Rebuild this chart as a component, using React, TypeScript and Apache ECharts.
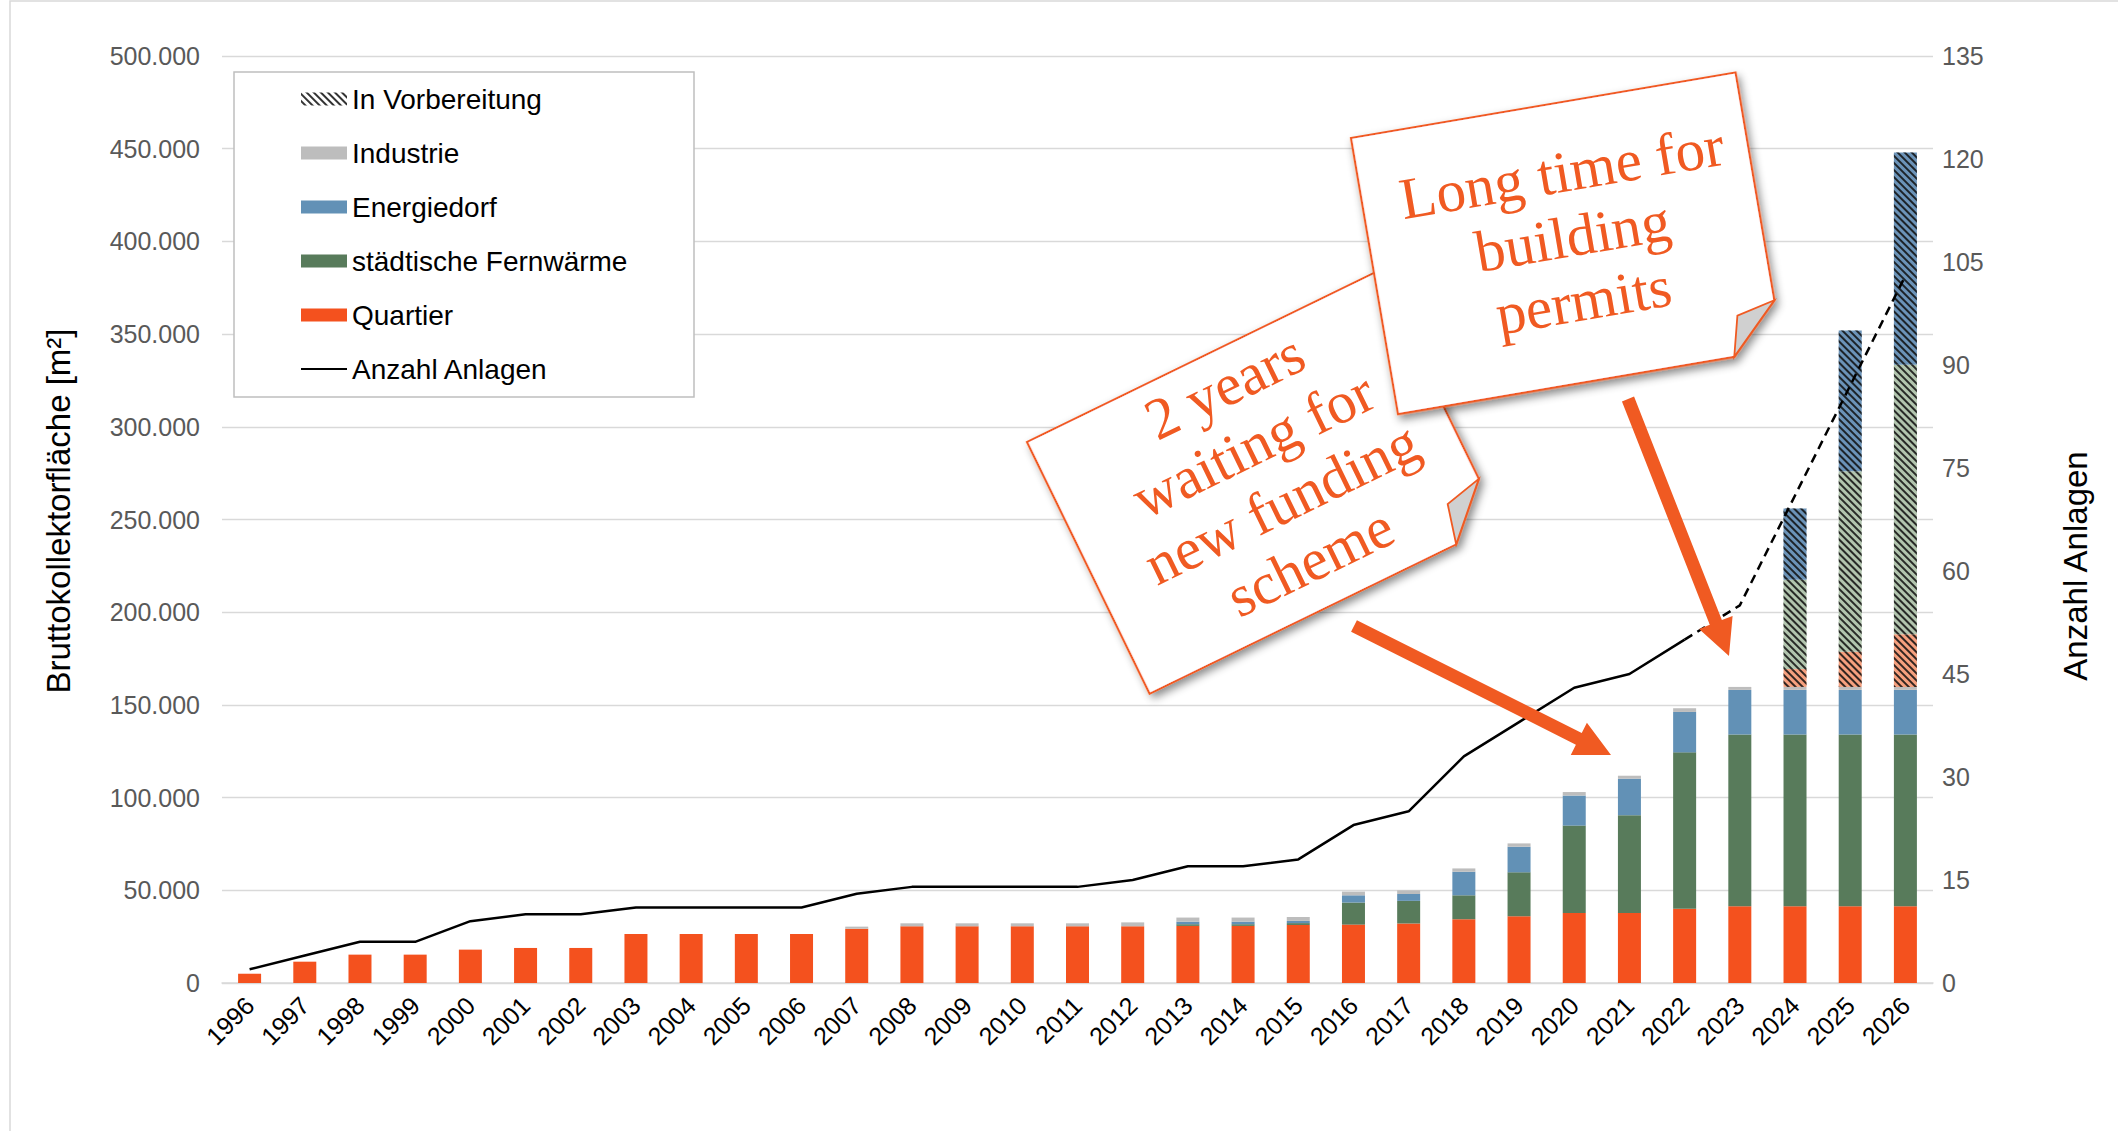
import React, { useEffect, useRef } from "react";
import * as echarts from "echarts";

const years = [
  "1996", "1997", "1998", "1999", "2000", "2001", "2002", "2003", "2004", "2005",
  "2006", "2007", "2008", "2009", "2010", "2011", "2012", "2013", "2014", "2015",
  "2016", "2017", "2018", "2019", "2020", "2021", "2022", "2023", "2024", "2025", "2026",
];

const quartier = [
  5000, 11500, 15300, 15300, 18000, 18900, 18900, 26400, 26400, 26400,
  26400, 29300, 30600, 30600, 30600, 30600, 30600, 30800, 30800, 31300,
  31500, 32100, 34400, 36000, 37800, 37800, 40000, 41400, 41400, 41400, 41400,
];
const fernwaerme = [
  0, 0, 0, 0, 0, 0, 0, 0, 0, 0,
  0, 0, 0, 0, 0, 0, 0, 900, 900, 1000,
  11900, 12200, 12900, 23700, 47100, 52700, 84400, 92600, 92600, 92600, 92600,
];
const energiedorf = [
  0, 0, 0, 0, 0, 0, 0, 0, 0, 0,
  0, 0, 0, 0, 0, 0, 0, 1400, 1400, 1200,
  3900, 3700, 12700, 13800, 16200, 19700, 21800, 24100, 24100, 24100, 24100,
];
const industrie = [
  0, 0, 0, 0, 0, 0, 0, 0, 0, 0,
  0, 1100, 1600, 1600, 1600, 1600, 2100, 2200, 2200, 2100,
  2000, 2000, 1800, 1800, 1900, 1600, 2000, 1600, 1600, 1600, 1600,
];
const quartierPrep = [
  0, 0, 0, 0, 0, 0, 0, 0, 0, 0, 0, 0, 0, 0, 0, 0, 0, 0, 0, 0,
  0, 0, 0, 0, 0, 0, 0, 0, 9600, 19000, 28400,
];
const fernwaermePrep = [
  0, 0, 0, 0, 0, 0, 0, 0, 0, 0, 0, 0, 0, 0, 0, 0, 0, 0, 0, 0,
  0, 0, 0, 0, 0, 0, 0, 0, 48200, 97300, 145400,
];
const energiedorfPrep = [
  0, 0, 0, 0, 0, 0, 0, 0, 0, 0, 0, 0, 0, 0, 0, 0, 0, 0, 0, 0,
  0, 0, 0, 0, 0, 0, 0, 0, 38500, 76000, 114500,
];
const anlagen = [
  2, 4, 6, 6, 9, 10, 10, 11, 11, 11,
  11, 13, 14, 14, 14, 14, 15, 17, 17, 18,
  23, 25, 33, 38, 43, 45, 50, 55, 71, 87, 103,
];
const lastActualIndex = 26; // 2022: solid line ends, dashed (planned) continues

const leftAxisMax = 500000;
const leftAxisStep = 50000;
const rightAxisMax = 135;
const rightAxisStep = 15;

const note1Lines = ["2 years", "waiting for", "new funding", "scheme"];
const note2Lines = ["Long time for", "building", "permits"];

const C_Q = "#F4511E";
const C_F = "#587B5B";
const C_E = "#6291B6";
const C_I = "#BDBDBD";
const C_ORANGE = "#F05A22";

const fmt = (v: number) =>
  Math.round(v).toString().replace(/\B(?=(\d{3})+(?!\d))/g, ".");

const stripe = {
  symbol: "rect",
  symbolSize: 1,
  dashArrayX: [1, 0],
  dashArrayY: [1.5, 2.3],
  rotation: Math.PI / 4,
  color: "rgba(15,15,15,0.85)",
};

function arrowPoints(x1: number, y1: number, x2: number, y2: number, s: number, hw: number, hl: number) {
  const dx = x2 - x1, dy = y2 - y1;
  const len = Math.hypot(dx, dy);
  const ux = dx / len, uy = dy / len;
  const px = -uy, py = ux;
  const bx = x2 - ux * hl, by = y2 - uy * hl;
  return [
    [x1 + (px * s) / 2, y1 + (py * s) / 2],
    [bx + (px * s) / 2, by + (py * s) / 2],
    [bx + (px * hw) / 2, by + (py * hw) / 2],
    [x2, y2],
    [bx - (px * hw) / 2, by - (py * hw) / 2],
    [bx - (px * s) / 2, by - (py * s) / 2],
    [x1 - (px * s) / 2, y1 - (py * s) / 2],
  ];
}

function note(x: number, y: number, deg: number, lines: string[], z: number) {
  const W = 390, H = 280, f = 49;
  return {
    type: "group",
    x,
    y,
    rotation: (deg * Math.PI) / 180,
    z,
    children: [
      {
        type: "polygon",
        z,
        shape: { points: [[0, 0], [W, 0], [W, H - f], [W - f, H], [0, H]] },
        style: {
          fill: "#fff",
          stroke: C_ORANGE,
          lineWidth: 2.2,
          shadowBlur: 8,
          shadowOffsetX: 2,
          shadowOffsetY: 5,
          shadowColor: "rgba(0,0,0,0.45)",
        },
      },
      {
        type: "polygon",
        z: z + 1,
        shape: { points: [[W, H - f], [W - f, H], [W - 39, H - 40]] },
        style: { fill: "#d0d0d0", stroke: C_ORANGE, lineWidth: 1.8 },
      },
      {
        type: "text",
        z: z + 2,
        x: 202,
        y: 134,
        style: {
          text: lines.join("\n"),
          fill: C_ORANGE,
          font: '59px "Liberation Serif"',
          lineHeight: 65,
          align: "center",
          verticalAlign: "middle",
        },
      },
    ],
  };
}

export default function App() {
  const ref = useRef<HTMLDivElement>(null);

  useEffect(() => {
    if (!ref.current) return;
    const chart = echarts.init(ref.current, null, { renderer: "svg" });

    const actual = anlagen.map((v, i) => (i <= lastActualIndex ? v : null));
    const planned = anlagen.map((v, i) => (i >= lastActualIndex ? v : null));

    const barBase = { type: "bar", stack: "area", barWidth: 23, z: 2 };

    const option: any = {
      animation: false,
      backgroundColor: "#fff",
      textStyle: { fontFamily: '"Liberation Sans", Arial, sans-serif' },
      grid: { left: 222, right: 185, top: 56, bottom: 148, containLabel: false },
      legend: {
        orient: "vertical",
        left: 300,
        top: 84,
        padding: 0,
        itemWidth: 46,
        itemHeight: 13,
        itemGap: 24,
        z: 5,
        textStyle: { fontSize: 28, lineHeight: 30, color: "#000", fontFamily: '"Liberation Sans"' },
        data: [
          { name: "In Vorbereitung", icon: "rect" },
          { name: "Industrie", icon: "rect" },
          { name: "Energiedorf", icon: "rect" },
          { name: "städtische Fernwärme", icon: "rect" },
          { name: "Quartier", icon: "rect" },
          { name: "Anzahl Anlagen", itemStyle: { opacity: 0 } },
        ],
      },
      xAxis: {
        type: "category",
        data: years,
        axisTick: { show: false },
        axisLine: { lineStyle: { color: "#d9d9d9", width: 1.5 } },
        axisLabel: { rotate: 45, fontSize: 25, color: "#000", margin: 18, interval: 0 },
      },
      yAxis: [
        {
          type: "value",
          min: 0,
          max: leftAxisMax,
          interval: leftAxisStep,
          axisLabel: { formatter: fmt, fontSize: 25, color: "#595959", margin: 22 },
          splitLine: { lineStyle: { color: "#d9d9d9", width: 1.3 } },
        },
        {
          type: "value",
          min: 0,
          max: rightAxisMax,
          interval: rightAxisStep,
          splitLine: { show: false },
          axisLabel: { fontSize: 25, color: "#595959", margin: 9 },
        },
      ],
      series: [
        { ...barBase, name: "Quartier", data: quartier, itemStyle: { color: C_Q } },
        { ...barBase, name: "städtische Fernwärme", data: fernwaerme, itemStyle: { color: C_F } },
        { ...barBase, name: "Energiedorf", data: energiedorf, itemStyle: { color: C_E } },
        { ...barBase, name: "Industrie", data: industrie, itemStyle: { color: C_I } },
        { ...barBase, name: "In Vorbereitung", data: [], itemStyle: { color: "#fff", decal: stripe } },
        { ...barBase, name: "In Vorbereitung", data: quartierPrep, itemStyle: { color: "#F6A07E", decal: stripe } },
        { ...barBase, name: "In Vorbereitung", data: fernwaermePrep, itemStyle: { color: "#B2C5AE", decal: stripe } },
        { ...barBase, name: "In Vorbereitung", data: energiedorfPrep, itemStyle: { color: "#6B93B8", decal: stripe } },
        {
          type: "line",
          name: "Anzahl Anlagen",
          yAxisIndex: 1,
          data: actual,
          symbol: "none",
          z: 5,
          lineStyle: { color: "#000", width: 2.5 },
          itemStyle: { color: "#000", opacity: 0 },
        },
        {
          type: "line",
          name: "Anzahl Anlagen",
          yAxisIndex: 1,
          data: planned,
          symbol: "none",
          z: 5,
          lineStyle: { color: "#000", width: 2.5, type: [9, 6] },
          itemStyle: { color: "#000", opacity: 0 },
        },
      ],
      graphic: [
        {
          type: "rect",
          z: 0,
          shape: { x: 10, y: 1, width: 2300, height: 2300 },
          style: { fill: "none", stroke: "#d9d9d9", lineWidth: 1.5 },
        },
        {
          type: "rect",
          z: 3,
          shape: { x: 234, y: 72, width: 460, height: 325 },
          style: { fill: "#fff", stroke: "#bfbfbf", lineWidth: 1.5 },
        },
        {
          type: "text",
          x: 58,
          y: 511,
          rotation: Math.PI / 2,
          style: {
            text: "Bruttokollektorfläche [m²]",
            font: '33px "Liberation Sans"',
            fill: "#000",
            align: "center",
            verticalAlign: "middle",
          },
        },
        {
          type: "text",
          x: 2075,
          y: 566,
          rotation: Math.PI / 2,
          style: {
            text: "Anzahl Anlagen",
            font: '33px "Liberation Sans"',
            fill: "#000",
            align: "center",
            verticalAlign: "middle",
          },
        },
        note(1027, 442, 26, note1Lines, 100),
        note(1351, 138, 9.7, note2Lines, 110),
        {
          type: "polygon",
          z: 120,
          shape: { points: arrowPoints(1354, 626, 1611, 755, 13, 36, 36) },
          style: { fill: C_ORANGE },
        },
        {
          type: "polygon",
          z: 120,
          shape: { points: arrowPoints(1628, 399, 1729, 656, 13, 36, 36) },
          style: { fill: C_ORANGE },
        },
      ],
    };

    chart.setOption(option);
    return () => chart.dispose();
  }, []);

  return (
    <div
      ref={ref}
      style={{ position: "absolute", left: 0, top: 0, width: 2118, height: 1131, background: "#fff" }}
    />
  );
}
